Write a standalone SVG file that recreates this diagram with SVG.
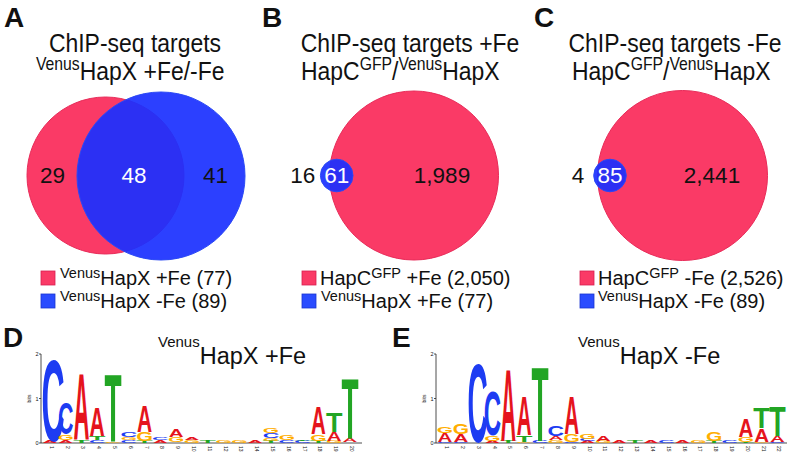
<svg xmlns="http://www.w3.org/2000/svg" width="795" height="457" viewBox="0 0 795 457">
<style>
text{font-family:"Liberation Sans",Arial,sans-serif;fill:#111}
.pl{font-size:28px;font-weight:bold}
.tt{font-size:25.5px;text-anchor:middle}
.tl{font-size:25.5px}
.sup{font-size:17.5px}
.num{font-size:22.5px;text-anchor:middle}
.wn{fill:#fff}
.leg{font-size:20px}
.lsup{font-size:14.5px}
.st{font-size:23.5px}
.ssup{font-size:15px}
.red{fill:#fa3a66;stroke:#e82a58;stroke-width:1}
.blue{fill:#1a30ff;fill-opacity:0.92;stroke:#2a48f5;stroke-width:1}
.sq-r{fill:#fa3a66;stroke:#d82050;stroke-width:0.8}
.sq-b{fill:#2a4cff;stroke:#1a36d0;stroke-width:0.8}
.lg{font-weight:bold;font-size:10px;text-anchor:middle}
.a{fill:#e5141c}.c{fill:#1d3cf2}.g{fill:#ffae00}.t{fill:#22a524}
.ax{stroke:#222;stroke-width:0.8;fill:none}
.tk{font-size:5.5px;text-anchor:end}
.pn{font-size:5px}
</style>

<g id="panelA">
<text class="pl" x="4" y="27">A</text>
<text class="tt" transform="translate(135 52) scale(0.9 1)">ChIP-seq targets</text>
<text class="tl" transform="translate(36 80) scale(0.9 1)"><tspan class="sup" dy="-10">Venus</tspan><tspan dy="10">HapX +Fe/-Fe</tspan></text>
<g id="vennA">
<circle class="red" cx="105.5" cy="175.5" r="78.5"/>
<circle class="blue" cx="161" cy="176" r="84"/>
<text class="num" x="52.5" y="183">29</text>
<text class="num wn" x="134" y="183">48</text>
<text class="num" x="215.5" y="183">41</text>
</g>
<g id="legendA">
<rect class="sq-r" x="41" y="271" width="14" height="14"/>
<text class="leg" x="60" y="285"><tspan class="lsup" dy="-7">Venus</tspan><tspan dy="7">HapX +Fe (77)</tspan></text>
<rect class="sq-b" x="41" y="294" width="14" height="14"/>
<text class="leg" x="60" y="308"><tspan class="lsup" dy="-7">Venus</tspan><tspan dy="7">HapX -Fe (89)</tspan></text>
</g>
</g>

<g id="panelB">
<text class="pl" x="262" y="27">B</text>
<text class="tt" transform="translate(410 52) scale(0.9 1)">ChIP-seq targets +Fe</text>
<text class="tl" transform="translate(301 80) scale(0.9 1)">HapC<tspan class="sup" dy="-10">GFP</tspan><tspan dy="10">/</tspan><tspan class="sup" dy="-10">Venus</tspan><tspan dy="10">HapX</tspan></text>
<g id="vennB">
<circle class="red" cx="414" cy="175.5" r="84.5"/>
<circle class="blue" cx="336.7" cy="175.5" r="16.3"/>
<text class="num" x="302.8" y="183">16</text>
<text class="num wn" x="336.7" y="183">61</text>
<text class="num" x="442" y="183">1,989</text>
</g>
<g id="legendB">
<rect class="sq-r" x="302" y="271" width="14" height="14"/>
<text class="leg" x="320" y="285">HapC<tspan class="lsup" dy="-7">GFP</tspan><tspan dy="7"> +Fe (2,050)</tspan></text>
<rect class="sq-b" x="302" y="294" width="14" height="14"/>
<text class="leg" x="321" y="308"><tspan class="lsup" dy="-7">Venus</tspan><tspan dy="7">HapX +Fe (77)</tspan></text>
</g>
</g>

<g id="panelC">
<text class="pl" x="534" y="27">C</text>
<text class="tt" transform="translate(675 52) scale(0.9 1)">ChIP-seq targets -Fe</text>
<text class="tl" transform="translate(572 80) scale(0.9 1)">HapC<tspan class="sup" dy="-10">GFP</tspan><tspan dy="10">/</tspan><tspan class="sup" dy="-10">Venus</tspan><tspan dy="10">HapX</tspan></text>
<g id="vennC">
<circle class="red" cx="682.5" cy="175.5" r="85"/>
<circle class="blue" cx="610" cy="175.5" r="16.3"/>
<text class="num" x="578" y="183">4</text>
<text class="num wn" x="610" y="183">85</text>
<text class="num" x="712" y="183">2,441</text>
</g>
<g id="legendC">
<rect class="sq-r" x="580" y="271" width="14" height="14"/>
<text class="leg" x="598" y="285">HapC<tspan class="lsup" dy="-7">GFP</tspan><tspan dy="7"> -Fe (2,526)</tspan></text>
<rect class="sq-b" x="580" y="294" width="14" height="14"/>
<text class="leg" x="598" y="308"><tspan class="lsup" dy="-7">Venus</tspan><tspan dy="7">HapX -Fe (89)</tspan></text>
</g>
</g>

<g id="panelD">
<text class="pl" x="3" y="347">D</text>
<text class="st" x="158" y="364"><tspan class="ssup" dy="-17">Venus</tspan><tspan dy="17">HapX +Fe</tspan></text>
<g id="axisD">
<path class="ax" d="M41 354V443M39 354H41M39 398.5H41M39 443H41M41 443H362"/>
<text class="tk" x="38.5" y="356">2</text>
<text class="tk" x="38.5" y="400.5">1</text>
<text class="tk" x="38.5" y="445">0</text>
<text class="pn" transform="translate(31 398.5) rotate(-90)" text-anchor="middle">bits</text>
</g>
<g id="logoD">
<text class="lg a" transform="translate(49.8 443) scale(2.05 0.28)">A</text>
<text class="lg c" transform="translate(53 441) scale(3.2 11.49)">C</text>
<text class="lg a" transform="translate(65.6 443) scale(2.05 0.42)">A</text>
<text class="lg g" transform="translate(65.6 440) scale(2.1 0.81)">G</text>
<text class="lg c" transform="translate(65.6 434) scale(2.14 4.46)">C</text>
<text class="lg t" transform="translate(81.4 443) scale(2.7 0.42)">T</text>
<text class="lg a" transform="translate(81.4 440) scale(2.2 9.5)">A</text>
<text class="lg c" transform="translate(97.2 443) scale(2.3 0.41)">C</text>
<text class="lg t" transform="translate(97.2 440) scale(2.7 0.56)">T</text>
<text class="lg a" transform="translate(97.2 436) scale(2.1 4.05)">A</text>
<text class="lg g" transform="translate(113 443) scale(2.1 0.2)">G</text>
<text class="lg t" transform="translate(113 442) scale(2.8 9.64)">T</text>
<text class="lg c" transform="translate(128.8 443) scale(2.3 0.41)">C</text>
<text class="lg g" transform="translate(128.8 440) scale(2.1 0.41)">G</text>
<text class="lg c" transform="translate(128.8 437) scale(2.3 0.68)">C</text>
<text class="lg t" transform="translate(144.6 443) scale(2.7 0.28)">T</text>
<text class="lg g" transform="translate(144.6 441) scale(2.15 1.22)">G</text>
<text class="lg a" transform="translate(144.6 432) scale(2.1 3.63)">A</text>
<text class="lg a" transform="translate(160.4 443) scale(2.05 0.42)">A</text>
<text class="lg c" transform="translate(160.4 440) scale(2.3 0.41)">C</text>
<text class="lg g" transform="translate(176.2 442) scale(2.1 0.68)">G</text>
<text class="lg a" transform="translate(176.2 437) scale(2.05 1.12)">A</text>
<text class="lg g" transform="translate(192 443) scale(2.1 0.41)">G</text>
<text class="lg a" transform="translate(192 440) scale(2.05 0.28)">A</text>
<text class="lg t" transform="translate(207.8 443) scale(2.7 0.28)">T</text>
<text class="lg g" transform="translate(223.6 443) scale(2.1 0.27)">G</text>
<text class="lg g" transform="translate(239.4 443) scale(2.1 0.27)">G</text>
<text class="lg a" transform="translate(255.2 443) scale(2.05 0.28)">A</text>
<text class="lg t" transform="translate(271 443) scale(2.7 0.28)">T</text>
<text class="lg g" transform="translate(271 441) scale(2.1 0.41)">G</text>
<text class="lg c" transform="translate(271 438) scale(2.3 0.68)">C</text>
<text class="lg g" transform="translate(271 433) scale(2.1 0.68)">G</text>
<text class="lg c" transform="translate(286.8 443) scale(2.3 0.41)">C</text>
<text class="lg g" transform="translate(286.8 440) scale(2.1 0.81)">G</text>
<text class="lg c" transform="translate(302.6 443) scale(2.3 0.27)">C</text>
<text class="lg t" transform="translate(302.6 441) scale(2.7 0.21)">T</text>
<text class="lg t" transform="translate(318.4 443) scale(2.7 0.28)">T</text>
<text class="lg g" transform="translate(318.4 441) scale(2.1 0.95)">G</text>
<text class="lg a" transform="translate(318.4 434) scale(2.05 3.91)">A</text>
<text class="lg g" transform="translate(334.2 443) scale(2.1 0.27)">G</text>
<text class="lg a" transform="translate(334.2 441) scale(2.05 1.26)">A</text>
<text class="lg t" transform="translate(334.2 432) scale(2.7 2.79)">T</text>
<text class="lg a" transform="translate(350 442) scale(2.05 0.56)">A</text>
<text class="lg t" transform="translate(350 438) scale(2.8 8.52)">T</text>
</g>
<g id="posD">
<text class="pn" transform="translate(49.8 446) rotate(90)">1</text>
<text class="pn" transform="translate(65.6 446) rotate(90)">2</text>
<text class="pn" transform="translate(81.4 446) rotate(90)">3</text>
<text class="pn" transform="translate(97.2 446) rotate(90)">4</text>
<text class="pn" transform="translate(113 446) rotate(90)">5</text>
<text class="pn" transform="translate(128.8 446) rotate(90)">6</text>
<text class="pn" transform="translate(144.6 446) rotate(90)">7</text>
<text class="pn" transform="translate(160.4 446) rotate(90)">8</text>
<text class="pn" transform="translate(176.2 446) rotate(90)">9</text>
<text class="pn" transform="translate(192 446) rotate(90)">10</text>
<text class="pn" transform="translate(207.8 446) rotate(90)">11</text>
<text class="pn" transform="translate(223.6 446) rotate(90)">12</text>
<text class="pn" transform="translate(239.4 446) rotate(90)">13</text>
<text class="pn" transform="translate(255.2 446) rotate(90)">14</text>
<text class="pn" transform="translate(271 446) rotate(90)">15</text>
<text class="pn" transform="translate(286.8 446) rotate(90)">16</text>
<text class="pn" transform="translate(302.6 446) rotate(90)">17</text>
<text class="pn" transform="translate(318.4 446) rotate(90)">18</text>
<text class="pn" transform="translate(334.2 446) rotate(90)">19</text>
<text class="pn" transform="translate(350 446) rotate(90)">20</text>
</g>
</g>

<g id="panelE">
<text class="pl" x="392" y="347">E</text>
<text class="st" x="578" y="364"><tspan class="ssup" dy="-17">Venus</tspan><tspan dy="17">HapX -Fe</tspan></text>
<g id="axisE">
<path class="ax" d="M436 354V443M434 354H436M434 398.5H436M434 443H436M436 443H787"/>
<text class="tk" x="433.5" y="356">2</text>
<text class="tk" x="433.5" y="400.5">1</text>
<text class="tk" x="433.5" y="445">0</text>
<text class="pn" transform="translate(426 398.5) rotate(-90)" text-anchor="middle">bits</text>
</g>
<g id="logoE">
<text class="lg c" transform="translate(445 443) scale(2.3 0.2)">C</text>
<text class="lg a" transform="translate(445 441.5) scale(2.05 1.19)">A</text>
<text class="lg g" transform="translate(445 433) scale(2.1 0.95)">G</text>
<text class="lg c" transform="translate(460.8 443) scale(2.3 0.2)">C</text>
<text class="lg a" transform="translate(460.8 441.5) scale(2.05 1.12)">A</text>
<text class="lg g" transform="translate(460.8 433.5) scale(2.1 1.49)">G</text>
<text class="lg c" transform="translate(477.5 442) scale(2.8 11.08)">C</text>
<text class="lg a" transform="translate(492.5 443) scale(2.05 0.28)">A</text>
<text class="lg g" transform="translate(492.5 441) scale(2.1 0.81)">G</text>
<text class="lg c" transform="translate(492.5 435) scale(2.4 6.35)">C</text>
<text class="lg t" transform="translate(508.3 443) scale(2.7 0.28)">T</text>
<text class="lg a" transform="translate(508.3 441) scale(2.1 10.2)">A</text>
<text class="lg g" transform="translate(524.2 443) scale(2.1 0.2)">G</text>
<text class="lg t" transform="translate(524.2 441.5) scale(2.7 0.91)">T</text>
<text class="lg a" transform="translate(524.2 435) scale(2.05 5.59)">A</text>
<text class="lg c" transform="translate(540 443) scale(2.3 0.27)">C</text>
<text class="lg t" transform="translate(540 441) scale(2.8 10.61)">T</text>
<text class="lg g" transform="translate(555.8 443) scale(2.1 0.41)">G</text>
<text class="lg a" transform="translate(555.8 440) scale(2.05 0.56)">A</text>
<text class="lg c" transform="translate(555.8 436) scale(2.3 1.49)">C</text>
<text class="lg c" transform="translate(571.6 443) scale(2.3 0.2)">C</text>
<text class="lg g" transform="translate(571.6 441.5) scale(2.1 1.01)">G</text>
<text class="lg a" transform="translate(571.6 434) scale(2.05 5.45)">A</text>
<text class="lg a" transform="translate(587.5 443) scale(2.05 0.28)">A</text>
<text class="lg c" transform="translate(587.5 441) scale(2.3 0.27)">C</text>
<text class="lg g" transform="translate(587.5 439) scale(2.1 0.68)">G</text>
<text class="lg g" transform="translate(603.3 443) scale(2.1 0.27)">G</text>
<text class="lg a" transform="translate(603.3 441) scale(2.05 0.7)">A</text>
<text class="lg a" transform="translate(619.1 443) scale(2.05 0.28)">A</text>
<text class="lg t" transform="translate(635 443) scale(2.7 0.28)">T</text>
<text class="lg a" transform="translate(650.8 443) scale(2.05 0.28)">A</text>
<text class="lg c" transform="translate(666.6 443) scale(2.3 0.27)">C</text>
<text class="lg a" transform="translate(682.5 443) scale(2.05 0.28)">A</text>
<text class="lg g" transform="translate(698.3 443) scale(2.1 0.27)">G</text>
<text class="lg t" transform="translate(714.1 443) scale(2.7 0.28)">T</text>
<text class="lg g" transform="translate(714.1 441) scale(2.1 1.22)">G</text>
<text class="lg c" transform="translate(729.9 443) scale(2.3 0.27)">C</text>
<text class="lg t" transform="translate(745.8 443) scale(2.7 0.21)">T</text>
<text class="lg g" transform="translate(745.8 441.5) scale(2.1 0.68)">G</text>
<text class="lg a" transform="translate(745.8 436.5) scale(2.05 2.51)">A</text>
<text class="lg g" transform="translate(761.6 443) scale(2.1 0.2)">G</text>
<text class="lg a" transform="translate(761.6 441.5) scale(2.05 1.89)">A</text>
<text class="lg t" transform="translate(761.6 428) scale(2.7 2.93)">T</text>
<text class="lg c" transform="translate(777.4 443) scale(2.3 0.2)">C</text>
<text class="lg a" transform="translate(777.4 441.5) scale(2.05 0.84)">A</text>
<text class="lg t" transform="translate(777.4 435.5) scale(2.7 4.19)">T</text>
</g>
<g id="posE">
<text class="pn" transform="translate(445 446) rotate(90)">1</text>
<text class="pn" transform="translate(460.8 446) rotate(90)">2</text>
<text class="pn" transform="translate(476.7 446) rotate(90)">3</text>
<text class="pn" transform="translate(492.5 446) rotate(90)">4</text>
<text class="pn" transform="translate(508.3 446) rotate(90)">5</text>
<text class="pn" transform="translate(524.2 446) rotate(90)">6</text>
<text class="pn" transform="translate(540 446) rotate(90)">7</text>
<text class="pn" transform="translate(555.8 446) rotate(90)">8</text>
<text class="pn" transform="translate(571.6 446) rotate(90)">9</text>
<text class="pn" transform="translate(587.5 446) rotate(90)">10</text>
<text class="pn" transform="translate(603.3 446) rotate(90)">11</text>
<text class="pn" transform="translate(619.1 446) rotate(90)">12</text>
<text class="pn" transform="translate(635 446) rotate(90)">13</text>
<text class="pn" transform="translate(650.8 446) rotate(90)">14</text>
<text class="pn" transform="translate(666.6 446) rotate(90)">15</text>
<text class="pn" transform="translate(682.5 446) rotate(90)">16</text>
<text class="pn" transform="translate(698.3 446) rotate(90)">17</text>
<text class="pn" transform="translate(714.1 446) rotate(90)">18</text>
<text class="pn" transform="translate(729.9 446) rotate(90)">19</text>
<text class="pn" transform="translate(745.8 446) rotate(90)">20</text>
<text class="pn" transform="translate(761.6 446) rotate(90)">21</text>
<text class="pn" transform="translate(777.4 446) rotate(90)">22</text>
</g>
</g>
</svg>
